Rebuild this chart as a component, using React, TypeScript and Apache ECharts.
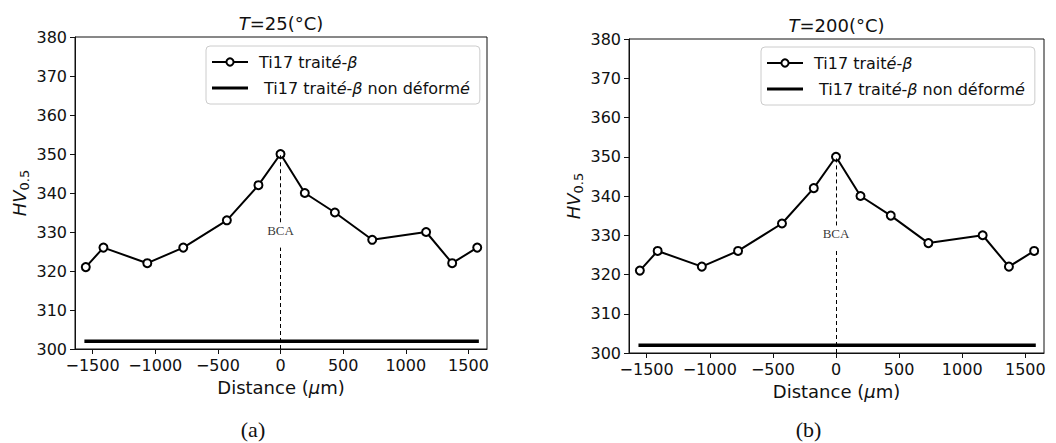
import React, { useEffect, useRef } from "react";
import * as echarts from "echarts";

// ---- data ----
const distance = [-1554, -1413, -1063, -776, -428, -176, 0, 194, 434, 732, 1162, 1370, 1570];
const hv25 = [321, 326, 322, 326, 333, 342, 350, 340, 335, 328, 330, 322, 326];
const hv200 = [321, 326, 322, 326, 333, 342, 350, 340, 335, 328, 330, 322, 326];
const baselineX = [-1565, 1583];
const baseline25 = 302;
const baseline200 = 302;
const xTicks = [-1500, -1000, -500, 0, 500, 1000, 1500];
const bcaLowerSegment = [300, 326];
const bcaUpperSegment = [332.5, 350];
const bcaLabelPos = [0, 330.5];
const titles = ["25", "200"];
const captions = ["(a)", "(b)"];
const seriesNames = ["Ti17 traité-β", " Ti17 traité-β non déformé"];

const SANS = "DejaVu Sans";
const SERIF = "Liberation Serif";
const INK = "#111";

const panels = [
  { grid: { left: 75, top: 37, width: 412, height: 312 }, legend: { left: 206, top: 46 }, values: hv25, base: baseline25, title: titles[0], caption: captions[0] },
  { grid: { left: 629, top: 39, width: 415, height: 314 }, legend: { left: 761, top: 47 }, values: hv200, base: baseline200, title: titles[1], caption: captions[1] },
];

function buildOption() {
  const grid: any[] = [];
  const xAxis: any[] = [];
  const yAxis: any[] = [];
  const legend: any[] = [];
  const series: any[] = [];
  const graphic: any[] = [];

  panels.forEach((p, i) => {
    grid.push({ ...p.grid, show: true, borderColor: "#111", borderWidth: 1, backgroundColor: "transparent", containLabel: false, outerBoundsMode: "none" });
    xAxis.push({
      gridIndex: i, type: "value", min: -1640, max: 1648,
      axisLine: { show: true, onZero: false, lineStyle: { color: "#111", width: 1 } },
      axisTick: { show: true, length: 5, customValues: xTicks, lineStyle: { color: "#111" } },
      axisLabel: {
        customValues: xTicks, fontSize: 16, color: INK, fontFamily: SANS, margin: 8,
        formatter: (v: number) => (v < 0 ? "\u2212" + Math.abs(v) : String(v)),
      },
      splitLine: { show: false },
      name: "Distance ({i|\u03bc}m)", nameLocation: "middle", nameGap: 29,
      nameTextStyle: { fontSize: 18, color: INK, fontFamily: SANS, rich: { i: { fontStyle: "italic", fontSize: 18, color: INK, fontFamily: SANS } } },
    });
    yAxis.push({
      gridIndex: i, type: "value", min: 300, max: 380, interval: 10,
      axisLine: { show: true, onZero: false, lineStyle: { color: "#111", width: 1 } },
      axisTick: { show: true, length: 5, lineStyle: { color: "#111" } },
      axisLabel: { fontSize: 16, color: INK, fontFamily: SANS, margin: 8 },
      splitLine: { show: false },
      name: "{i|HV}{s|0.5}", nameLocation: "middle", nameRotate: 90, nameGap: 44,
      nameTextStyle: {
        color: INK, fontFamily: SANS,
        rich: {
          i: { fontStyle: "italic", fontSize: 18, color: INK, fontFamily: SANS, lineHeight: 24, verticalAlign: "middle" },
          s: { fontSize: 13, color: INK, fontFamily: SANS, lineHeight: 14, verticalAlign: "bottom" },
        },
      },
    });
    legend.push({
      ...p.legend, orient: "vertical",
      data: [
        { name: seriesNames[0] },
        { name: seriesNames[1], icon: "path://M0 0H36V3H0Z" },
      ],
      itemWidth: 36, itemHeight: 9, itemGap: 8,
      padding: [7, 10, 7, 5],
      borderColor: "#cccccc", borderWidth: 1, borderRadius: 4,
      backgroundColor: "rgba(255,255,255,0.85)",
      textStyle: {
        fontSize: 16, color: INK, fontFamily: SANS, lineHeight: 18, padding: [0, 0, 0, 6],
        rich: { i: { fontStyle: "italic", fontSize: 16, color: INK, fontFamily: SANS, lineHeight: 18 } },
      },
      formatter: (name: string) =>
        name === seriesNames[0] ? "Ti17 trait{i|é}-{i|β}" : " Ti17 trait{i|é}-{i|β} non déform{i|é}",
    });
    series.push({
      type: "line", name: seriesNames[0], xAxisIndex: i, yAxisIndex: i,
      data: distance.map((d, k) => [d, p.values[k]]),
      symbol: "circle", symbolSize: 8, z: 4,
      lineStyle: { color: "#000", width: 2 },
      itemStyle: { color: "#fff", borderColor: "#000", borderWidth: 2 },
      markLine: {
        silent: true, symbol: "none", label: { show: false },
        lineStyle: { color: "#000", width: 1, type: [4, 3] },
        data: [
          [{ coord: [0, bcaLowerSegment[0]] }, { coord: [0, bcaLowerSegment[1]] }],
          [{ coord: [0, bcaUpperSegment[0]] }, { coord: [0, bcaUpperSegment[1]] }],
        ],
      },
    });
    series.push({
      type: "line", name: seriesNames[1], xAxisIndex: i, yAxisIndex: i,
      data: baselineX.map((x) => [x, p.base]),
      symbol: "none", z: 3,
      lineStyle: { color: "#000", width: 3.5 },
      itemStyle: { color: "#000" },
    });
    series.push({
      type: "scatter", name: "BCA", xAxisIndex: i, yAxisIndex: i, silent: true,
      data: [bcaLabelPos], symbolSize: 0,
      itemStyle: { color: "#000" },
      label: {
        show: true, position: "inside", formatter: "BCA", fontFamily: SERIF, fontSize: 13,
        color: "#000", textBorderWidth: 0, textBorderColor: "transparent",
      },
    });
    const cx = p.grid.left + p.grid.width / 2;
    graphic.push({
      type: "text", x: cx, y: p.grid.top - 14,
      style: {
        text: "{i|T}=" + p.title + "(°C)", textAlign: "center", textVerticalAlign: "middle",
        fontSize: 18, fontFamily: SANS, fill: INK,
        rich: { i: { fontStyle: "italic", fontSize: 18, fontFamily: SANS, fill: INK } },
      },
    });
    graphic.push({
      type: "text", x: cx - 28, y: 429,
      style: { text: p.caption, textAlign: "center", textVerticalAlign: "middle", fontSize: 22, fontFamily: SERIF, fill: INK },
    });
  });

  return { animation: false, backgroundColor: "#fff", grid, xAxis, yAxis, legend, series, graphic, tooltip: { show: false } };
}

export default function App() {
  const ref = useRef<HTMLDivElement>(null);
  useEffect(() => {
    if (!ref.current) return;
    const chart = echarts.init(ref.current, undefined, { renderer: "svg" });
    chart.setOption(buildOption() as any);
    return () => chart.dispose();
  }, []);
  return <div ref={ref} style={{ margin: "-8px 0 0 -8px", width: 1056, height: 443 }} />;
}
